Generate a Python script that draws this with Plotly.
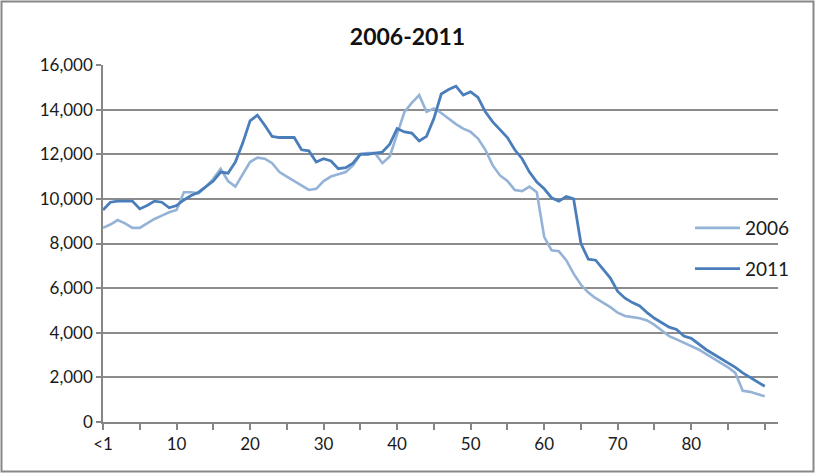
import plotly.graph_objects as go

ages = ["<1"] + [str(i) for i in range(1, 91)]

pop_2006 = [
    8700, 8850, 9050, 8900, 8700, 8700, 8900, 9100, 9250, 9400,
    9500, 10300, 10300, 10250, 10550, 10900, 11350, 10800, 10550, 11100,
    11650, 11850, 11800, 11600, 11200, 11000, 10800, 10600, 10400, 10450,
    10800, 11000, 11100, 11200, 11500, 12000, 12050, 12050, 11600, 11900,
    12900, 13900, 14300, 14650, 13900, 14050, 13850, 13600, 13350, 13150,
    13000, 12700, 12200, 11500, 11050, 10800, 10400, 10350, 10550, 10300,
    8300, 7700, 7650, 7250, 6650, 6150, 5800, 5550, 5350, 5150,
    4900, 4750, 4700, 4650, 4550, 4350, 4100, 3850, 3700, 3550,
    3400, 3250, 3050, 2850, 2650, 2450, 2200, 1400, 1350, 1250,
    1150,
]

pop_2011 = [
    9500, 9850, 9900, 9900, 9900, 9550, 9700, 9900, 9850, 9600,
    9700, 9950, 10150, 10300, 10550, 10800, 11200, 11150, 11650, 12500,
    13500, 13750, 13300, 12800, 12750, 12750, 12750, 12200, 12150, 11650,
    11800, 11700, 11350, 11400, 11600, 12000, 12000, 12050, 12100, 12450,
    13150, 13000, 12950, 12600, 12800, 13600, 14700, 14900, 15050, 14650,
    14800, 14550, 13900, 13450, 13100, 12750, 12200, 11800, 11200, 10750,
    10450, 10050, 9900, 10100, 10000, 8000, 7300, 7250, 6850, 6450,
    5850, 5550, 5350, 5200, 4900, 4650, 4450, 4250, 4150, 3850,
    3750, 3500, 3250, 3050, 2850, 2650, 2450, 2200, 2000, 1800,
    1600,
]

x_labels = ["<1", "10", "20", "30", "40", "50", "60", "70", "80"]

tick_vals = ages[::5]
tick_text = [a if a in x_labels else "" for a in tick_vals]

FONT = "Lato"

fig = go.Figure()
fig.add_trace(go.Scatter(x=ages, y=pop_2006, mode="lines", name="2006",
                         legendgroup="a",
                         line=dict(color="#95B3D7", width=2.6)))
fig.add_trace(go.Scatter(x=ages, y=pop_2011, mode="lines", name="2011",
                         legendgroup="b",
                         line=dict(color="#4A7EBB", width=2.8)))

L, R, T, B = 103, 37, 65, 51
W, H = 815, 473
pw, ph = W - L - R, H - T - B

fig.update_layout(
    width=W, height=H,
    margin=dict(l=L, r=R, t=T, b=B),
    paper_bgcolor="white", plot_bgcolor="white",
    font=dict(family=FONT, size=17, color="#1A1A1A"),
    title=dict(text="<b>2006-2011</b>", x=0.5, xref="container",
               y=1 - 37 / H, yref="container", yanchor="middle", xanchor="center",
               font=dict(family=FONT, size=23, color="#111111")),
    showlegend=True,
    legend=dict(x=(690 - L) / pw, y=(422 - 209) / ph, xanchor="left", yanchor="top",
                bgcolor="rgba(0,0,0,0)", font=dict(family=FONT, size=19, color="#1A1A1A"),
                tracegroupgap=13, itemwidth=45, traceorder="grouped"),
    xaxis=dict(type="category", range=[0, 91.8], tickmode="array",
               tickvals=tick_vals, ticktext=tick_text,
               showgrid=False, showline=True, linecolor="#868686", linewidth=1.5,
               ticks="outside", ticklen=6, tickcolor="#868686", tickwidth=1.5,
               tickfont=dict(family=FONT, size=17, color="#1A1A1A"), zeroline=False),
    yaxis=dict(range=[0, 16000], dtick=2000, tickformat=",", showgrid=True,
               gridcolor="#8C8C8C", gridwidth=1.5, showline=True, linecolor="#868686",
               linewidth=1.5, ticks="outside", ticklen=5, tickcolor="#868686",
               tickwidth=1.5, zeroline=False,
               tickfont=dict(family=FONT, size=17, color="#1A1A1A")),
    shapes=[dict(type="rect", xref="paper", yref="paper",
                 x0=(1.5 - L) / pw, x1=(813.5 - L) / pw,
                 y0=(H - B - 471.5) / ph, y1=(H - B - 1.5) / ph,
                 line=dict(color="#888888", width=2), fillcolor="rgba(0,0,0,0)",
                 layer="below")],
)

fig.write_html("out.html", config={"displayModeBar": False},
               post_script="document.body.style.margin='0px';")
